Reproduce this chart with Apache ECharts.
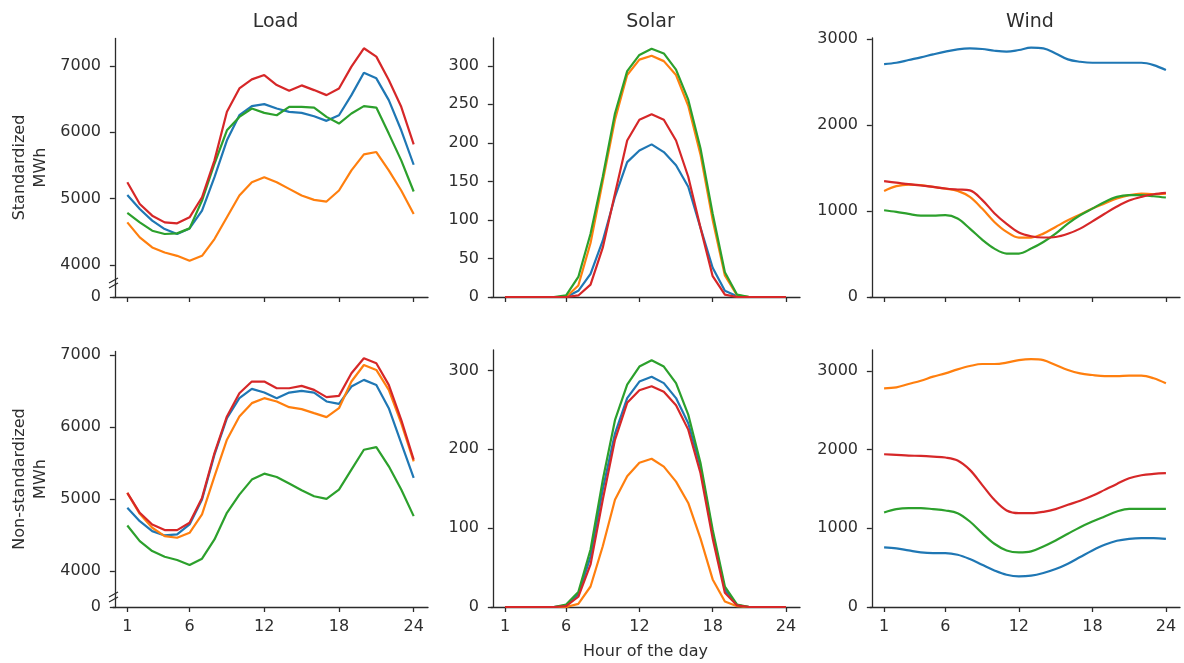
<!DOCTYPE html>
<html>
<head>
<meta charset="utf-8">
<title>Hourly profiles: load, solar and wind</title>
<script src="https://cdn.jsdelivr.net/npm/echarts@6.0.0/dist/echarts.min.js"></script>
<style>
  html, body { margin: 0; padding: 0; background: #ffffff; }
  #chart { width: 1184px; height: 663px; }
</style>
</head>
<body>
<div id="chart"></div>
<script>
// Hour of the day (x positions)
const hours = [1, 2, 3, 4, 5, 6, 7, 8, 9, 10, 11, 12, 13, 14, 15, 16, 17, 18, 19, 20, 21, 22, 23, 24];
const hourTicks = [1, 6, 12, 18, 24];

// Tick labels per panel
const loadTicks = [0, 4000, 5000, 6000, 7000];
const solarStdTicks = [0, 50, 100, 150, 200, 250, 300];
const solarNonTicks = [0, 100, 200, 300];
const windStdTicks = [0, 1000, 2000, 3000];
const windNonTicks = [0, 1000, 2000, 3000];

// Standardized profiles (MWh)
const loadStdBlue   = [5055, 4843, 4667, 4540, 4465, 4550, 4818, 5323, 5879, 6257, 6394, 6424, 6358, 6308, 6293, 6242, 6172, 6257, 6560, 6899, 6813, 6485, 6030, 5510];
const loadStdOrange = [4641, 4414, 4263, 4187, 4136, 4061, 4136, 4389, 4717, 5045, 5247, 5323, 5247, 5146, 5045, 4980, 4955, 5121, 5424, 5667, 5702, 5424, 5121, 4768];
const loadStdGreen  = [4783, 4641, 4515, 4465, 4475, 4550, 4970, 5525, 6030, 6232, 6358, 6293, 6257, 6384, 6384, 6373, 6232, 6131, 6283, 6394, 6373, 5980, 5576, 5106];
const loadStdRed    = [5247, 4919, 4742, 4641, 4626, 4717, 5020, 5576, 6308, 6661, 6798, 6863, 6712, 6626, 6707, 6636, 6560, 6661, 6990, 7267, 7141, 6788, 6384, 5818];

const solarStdBlue   = [0, 0, 0, 0, 0, 0, 8, 30, 73, 130, 175, 190, 198, 188, 171, 143, 90, 38, 8, 1, 0, 0, 0, 0];
const solarStdOrange = [0, 0, 0, 0, 0, 0, 15, 70, 150, 230, 288, 308, 313, 306, 288, 248, 185, 100, 28, 2, 0, 0, 0, 0];
const solarStdGreen  = [0, 0, 0, 0, 0, 2, 26, 82, 156, 238, 293, 314, 322, 316, 295, 256, 193, 108, 32, 3, 0, 0, 0, 0];
const solarStdRed    = [0, 0, 0, 0, 0, 0, 2, 16, 64, 134, 203, 230, 237, 230, 203, 156, 90, 27, 3, 0, 0, 0, 0, 0];

const windStdBlue   = [2709, 2724, 2756, 2787, 2821, 2853, 2880, 2891, 2884, 2864, 2853, 2872, 2899, 2891, 2833, 2763, 2736, 2724, 2724, 2724, 2724, 2724, 2697, 2639];
const windStdOrange = [1234, 1289, 1308, 1300, 1281, 1261, 1234, 1164, 1028, 873, 757, 691, 691, 737, 815, 893, 959, 1028, 1087, 1145, 1184, 1203, 1195, 1203];
const windStdGreen  = [1009, 990, 966, 947, 947, 951, 912, 796, 668, 563, 505, 505, 563, 640, 737, 854, 951, 1028, 1106, 1164, 1184, 1184, 1172, 1157];
const windStdRed    = [1347, 1330, 1312, 1297, 1280, 1262, 1250, 1240, 1130, 975, 850, 750, 706, 692, 698, 735, 795, 880, 968, 1052, 1122, 1165, 1195, 1210];

// Non-standardized profiles (MWh)
const loadNonBlue   = [4877, 4692, 4554, 4494, 4508, 4646, 4992, 5615, 6123, 6400, 6529, 6478, 6400, 6478, 6501, 6478, 6354, 6321, 6561, 6654, 6584, 6261, 5777, 5292];
const loadNonOrange = [5085, 4794, 4600, 4485, 4462, 4531, 4785, 5315, 5823, 6146, 6331, 6400, 6354, 6275, 6248, 6192, 6137, 6261, 6631, 6861, 6792, 6515, 6054, 5523];
const loadNonGreen  = [4632, 4415, 4277, 4198, 4152, 4083, 4171, 4438, 4808, 5061, 5269, 5352, 5306, 5214, 5121, 5038, 5001, 5131, 5408, 5684, 5721, 5454, 5131, 4762];
const loadNonRed    = [5085, 4808, 4646, 4568, 4568, 4669, 5015, 5638, 6146, 6469, 6631, 6631, 6538, 6538, 6571, 6515, 6414, 6432, 6746, 6954, 6884, 6584, 6100, 5546];

const solarNonBlue   = [0, 0, 0, 0, 0, 2, 16, 64, 149, 220, 265, 286, 292, 284, 265, 233, 178, 94, 22, 2, 0, 0, 0, 0];
const solarNonOrange = [0, 0, 0, 0, 0, 0, 4, 26, 77, 136, 166, 183, 188, 178, 159, 132, 87, 35, 7, 1, 0, 0, 0, 0];
const solarNonGreen  = [0, 0, 0, 0, 0, 3, 19, 73, 161, 237, 282, 305, 313, 305, 284, 244, 183, 98, 26, 3, 0, 0, 0, 0];
const solarNonRed    = [0, 0, 0, 0, 0, 1, 13, 54, 136, 212, 259, 275, 280, 273, 256, 225, 170, 87, 18, 2, 0, 0, 0, 0];

const windNonBlue   = [757, 745, 719, 694, 685, 685, 664, 609, 537, 465, 410, 389, 398, 432, 482, 550, 635, 719, 791, 842, 867, 876, 876, 867];
const windNonOrange = [2780, 2792, 2835, 2877, 2928, 2970, 3021, 3063, 3089, 3089, 3106, 3139, 3152, 3139, 3076, 3013, 2970, 2949, 2936, 2936, 2941, 2941, 2907, 2843];
const windNonGreen  = [1202, 1244, 1257, 1257, 1244, 1227, 1193, 1087, 939, 804, 719, 694, 707, 770, 846, 931, 1015, 1087, 1151, 1214, 1248, 1248, 1248, 1248];
const windNonRed    = [1942, 1934, 1925, 1921, 1912, 1900, 1862, 1743, 1553, 1362, 1227, 1193, 1193, 1210, 1244, 1299, 1350, 1413, 1489, 1565, 1637, 1675, 1692, 1701];

const palette = ['#1f77b4', '#ff7f0e', '#2ca02c', '#d62728'];
const FONT = 'DejaVu Sans';
const TEXT = '#2e2e2e';
const AXIS = '#2b2b2b';

// Panel geometry: [left, top, width, height]
const grids = [
  [113, 38, 315, 259], [491, 38, 309, 259], [870, 38, 310, 259],
  [113, 351, 315, 256], [491, 350, 309, 257], [870, 350, 310, 257]
];

// y extents and breaks for the load panels (range between 0 and ~4000 collapsed)
const yConf = [
  { max: 7422, ticks: loadTicks, brk: { start: 212, end: 3727 }, name: 'Standardized\nMWh' },
  { max: 336, ticks: solarStdTicks },
  { max: 3012, ticks: windStdTicks },
  { max: 7055, ticks: loadTicks, brk: { start: 139, end: 3639 }, name: 'Non-standardized\nMWh' },
  { max: 326, ticks: solarNonTicks },
  { max: 3267, ticks: windNonTicks }
];

const panels = [
  [loadStdBlue, loadStdOrange, loadStdGreen, loadStdRed],
  [solarStdBlue, solarStdOrange, solarStdGreen, solarStdRed],
  [windStdBlue, windStdOrange, windStdGreen, windStdRed],
  [loadNonBlue, loadNonOrange, loadNonGreen, loadNonRed],
  [solarNonBlue, solarNonOrange, solarNonGreen, solarNonRed],
  [windNonBlue, windNonOrange, windNonGreen, windNonRed]
];
const seriesNames = ['Profile 1', 'Profile 2', 'Profile 3', 'Profile 4'];

const plain = v => String(v);

const xAxes = grids.map((g, i) => ({
  type: 'value',
  gridIndex: i,
  min: -0.15,
  max: 25.15,
  axisLine: { show: true, lineStyle: { color: AXIS, width: 1.3 } },
  axisTick: { show: true, length: 5, customValues: hourTicks, lineStyle: { color: AXIS, width: 1.3 } },
  axisLabel: {
    show: i >= 3, customValues: hourTicks, margin: 12, formatter: plain,
    color: TEXT, fontFamily: FONT, fontSize: 16
  },
  splitLine: { show: false },
  name: i === 4 ? 'Hour of the day' : '',
  nameLocation: 'middle',
  nameGap: 37,
  nameTextStyle: { color: TEXT, fontFamily: FONT, fontSize: 16 }
}));

const yAxes = yConf.map((c, i) => {
  const ax = {
    type: 'value',
    gridIndex: i,
    min: 0,
    max: c.max,
    axisLine: { show: true, lineStyle: { color: AXIS, width: 1.3 } },
    axisTick: { show: true, length: 5, customValues: c.ticks, lineStyle: { color: AXIS, width: 1.3 } },
    axisLabel: { customValues: c.ticks, margin: 12, formatter: plain, color: TEXT, fontFamily: FONT, fontSize: 16 },
    splitLine: { show: false }
  };
  if (c.brk) {
    ax.breaks = [{ start: c.brk.start, end: c.brk.end, gap: 0 }];
    ax.breakArea = { show: false };
  }
  if (c.name) {
    ax.name = c.name;
    ax.nameLocation = 'middle';
    ax.nameRotate = 90;
    ax.nameGap = 62;
    ax.nameTextStyle = { color: TEXT, fontFamily: FONT, fontSize: 16, lineHeight: 21, align: 'center' };
  }
  return ax;
});

const series = [];
panels.forEach((arrs, p) => {
  const isWind = (p === 2 || p === 5);
  arrs.forEach((arr, k) => {
    series.push({
      type: 'line',
      name: seriesNames[k],
      xAxisIndex: p,
      yAxisIndex: p,
      data: hours.map((h, j) => [h, arr[j]]),
      showSymbol: false,
      smooth: isWind ? 0.35 : false,
      lineStyle: { color: palette[k], width: 2.2 },
      itemStyle: { color: palette[k] },
      animation: false,
      z: 2 + k
    });
  });
});

const titles = [['Load', 0], ['Solar', 1], ['Wind', 2]].map(([t, gi]) => ({
  text: t,
  left: grids[gi][0] + grids[gi][2] / 2,
  top: 8,
  textAlign: 'center',
  textStyle: { color: TEXT, fontFamily: FONT, fontSize: 19, fontWeight: 'normal' }
}));

const chart = echarts.init(document.getElementById('chart'), null, { renderer: 'canvas' });
chart.setOption({
  animation: false,
  backgroundColor: '#ffffff',
  title: titles,
  grid: grids.map(g => ({ left: g[0], top: g[1], width: g[2], height: g[3], containLabel: false })),
  xAxis: xAxes,
  yAxis: yAxes,
  series: series
});

// Break markers "//" on the load y axes
const marks = [];
[0, 3].forEach(i => {
  const x = chart.convertToPixel({ xAxisIndex: i }, -0.15);
  const y = chart.convertToPixel({ yAxisIndex: i }, yConf[i].brk.start);
  [-2.5, 2.5].forEach(dy => {
    marks.push({
      type: 'line',
      shape: { x1: x - 4, y1: y + dy + 2.5, x2: x + 5, y2: y + dy - 2.5 },
      style: { stroke: AXIS, lineWidth: 1.2 },
      z: 100
    });
  });
});
chart.setOption({ graphic: marks });
</script>
</body>
</html>
